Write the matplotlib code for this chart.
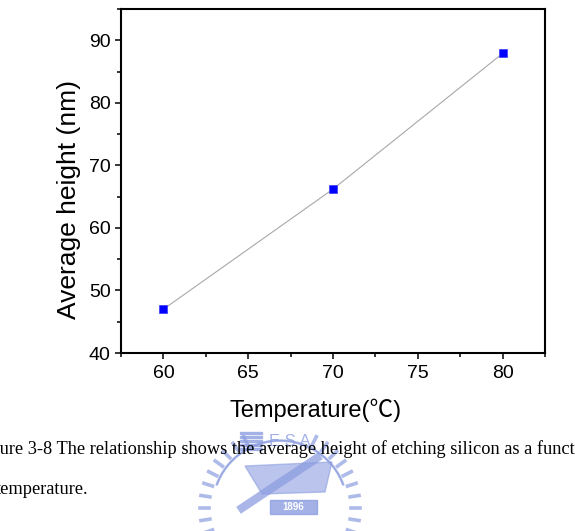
import matplotlib
matplotlib.use("Agg")
import matplotlib.pyplot as plt
import numpy as np
from matplotlib.patches import Rectangle, Polygon, Wedge
from matplotlib.ticker import MultipleLocator

temperature = [60, 70, 80]
avg_height = [47.0, 66.2, 87.9]

x_ticks = [60, 65, 70, 75, 80]
y_ticks = [40, 50, 60, 70, 80, 90]

caption_1 = "Figure 3-8 The relationship shows the average height of etching silicon as a function of"
caption_2 = "temperature."

sans = ["Liberation Sans", "Noto Sans CJK JP", "DejaVu Sans"]
serif = ["Liberation Serif", "DejaVu Serif"]

fig = plt.figure(figsize=(5.75, 5.31), dpi=100)
ax = fig.add_axes([0.2104, 0.3352, 0.7374, 0.6478])

ax.plot(temperature, avg_height, color="#a8a8a8", linewidth=0.8, zorder=2)
ax.plot(temperature, avg_height, linestyle="none", marker="s", markersize=5.8,
        markerfacecolor="#0000ff", markeredgecolor="#3a3aff", markeredgewidth=0.5, zorder=3)

ax.set_xlim(57.5, 82.5)
ax.set_ylim(40, 95)
ax.set_xticks(x_ticks)
ax.set_yticks(y_ticks)
ax.xaxis.set_minor_locator(MultipleLocator(2.5))
ax.yaxis.set_minor_locator(MultipleLocator(5))
ax.tick_params(which="major", direction="out", length=4.3, width=1.1, pad=3,
               labelsize=14, top=False, right=False)
ax.tick_params(which="minor", direction="out", length=2.6, width=1.1, top=False, right=False)
ax.tick_params(axis="x", which="major", pad=4.5)
for lab in ax.get_xticklabels() + ax.get_yticklabels():
    lab.set_family(sans)
for sp in ax.spines.values():
    sp.set_linewidth(1.5)

ax.set_ylabel("Average height (nm)", family=sans, fontsize=19, va="center")
ax.yaxis.set_label_coords(-0.123, 0.445)
ax.set_xlabel("Temperature(\u2103)", family=sans, fontsize=17, va="center")
ax.xaxis.set_label_coords(0.46, -0.166)

# faint watermark logo behind the caption
wm = "#8c9ee0"
W, H = 575.0, 531.0
cx, cy, r = 280, 531 - 508, 80
ang = np.linspace(0, 2 * np.pi, 40, endpoint=False)
for a in ang:
    if 0.35 * np.pi < a < 0.65 * np.pi:
        continue
    x0, y0 = cx + (r - 9) * np.cos(a), cy + (r - 9) * np.sin(a)
    x1, y1 = cx + r * np.cos(a), cy + r * np.sin(a)
    fig.add_artist(plt.Line2D([x0, x1], [y0, y1], color=wm, linewidth=2.6, alpha=0.7,
                              transform=None, zorder=0))
fig.add_artist(Wedge((cx, cy), r - 12, 20, 160, width=1.2, color=wm, alpha=0.7,
                     transform=None, zorder=0))
fig.add_artist(Polygon([[245, 531 - 466], [332, 531 - 462], [325, 531 - 492], [262, 531 - 494]],
                       closed=True, color=wm, alpha=0.6, transform=None, zorder=0))
fig.add_artist(plt.Line2D([242, 317], [531 - 508, 531 - 458], color=wm,
                          linewidth=6, alpha=0.75, transform=None, zorder=0))
fig.add_artist(Rectangle((270, 531 - 514), 47, 14, color=wm, alpha=0.8, transform=None, zorder=0))
fig.text(293.5 / W, 1 - 507 / H, "1896", color="white", fontsize=7, fontweight="bold",
         ha="center", va="center", family=sans, zorder=1)
for i in range(5):
    fig.add_artist(Rectangle((240, 531 - 434 - i * 4), 22, 2, color=wm, alpha=0.7,
                             transform=None, zorder=0))
fig.text(290 / W, 1 - 441 / H, "E S A", color=wm, fontsize=12, ha="center", va="center",
         family=sans, alpha=0.8, zorder=0)

# caption, clipped at both edges like the scanned page
cap_size = 13.25
renderer = fig.canvas.get_renderer()
probe = fig.text(0, 0, "Fig", family=serif, fontsize=cap_size)
shift = probe.get_window_extent(renderer).width / W
probe.remove()
probe = fig.text(0, 0, "t", family=serif, fontsize=cap_size)
shift2 = probe.get_window_extent(renderer).width / W
probe.remove()
fig.text(-shift, 1 - 449 / H, caption_1, family=serif, fontsize=cap_size, va="center", ha="left", zorder=2)
fig.text(-shift2 + 1 / W, 1 - 489 / H, caption_2, family=serif, fontsize=cap_size, va="center", ha="left", zorder=2)

fig.savefig("out.png", dpi=100)
